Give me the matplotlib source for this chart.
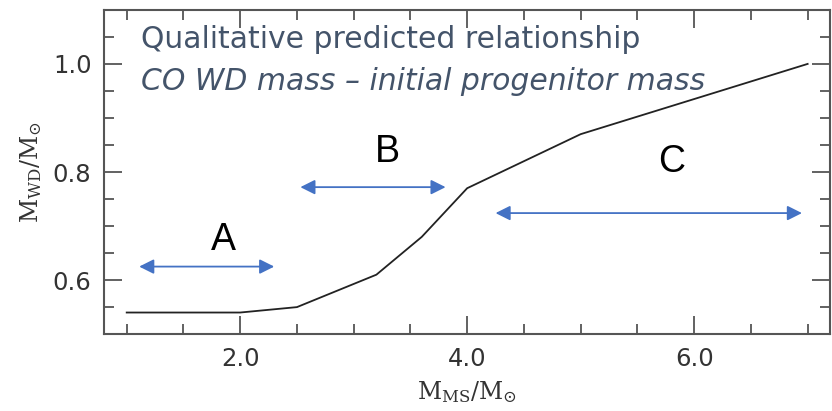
import matplotlib.pyplot as plt

m_ms = [1.0, 2.0, 2.5, 3.2, 3.6, 4.0, 5.0, 7.0]
m_wd = [0.54, 0.54, 0.55, 0.61, 0.68, 0.77, 0.87, 1.0]

# region arrows: (label, x_start, x_end, y_arrow, x_label, y_label)
regions = ['A', 'B', 'C']
arrow_x0 = [1.11, 2.53, 4.25]
arrow_x1 = [2.30, 3.81, 6.95]
arrow_y = [0.625, 0.772, 0.724]
label_x = [1.85, 3.30, 5.80]
label_y = [0.675, 0.837, 0.818]

title_lines = ['Qualitative predicted relationship',
               'CO WD mass \u2013 initial progenitor mass']

plt.rcParams['mathtext.fontset'] = 'dejavuserif'

fig = plt.figure(figsize=(8.32, 4.11), dpi=100)
ax = fig.add_axes([0.125, 0.187, 0.873, 0.789])

ax.plot(m_ms, m_wd, color='#222222', lw=1.3)

for lab, x0, x1, y, lx, ly in zip(regions, arrow_x0, arrow_x1, arrow_y, label_x, label_y):
    ax.annotate('', xy=(x1, y), xytext=(x0, y),
                arrowprops=dict(arrowstyle='<|-|>', color='#4472C4', lw=1.3,
                                mutation_scale=22, shrinkA=0, shrinkB=0))
    ax.text(lx, ly, lab, fontsize=27, ha='center', va='center', color='black',
            family='Liberation Sans')

ax.text(1.13, 1.029, title_lines[0], fontsize=21.5, color='#44546A', va='baseline',
        family='DejaVu Sans')
ax.text(1.13, 0.951, title_lines[1], fontsize=21.5, color='#44546A', va='baseline',
        family='DejaVu Sans', style='italic')

ax.set_xlim(0.8, 7.2)
ax.set_ylim(0.5, 1.1)
ax.set_xticks([2.0, 4.0, 6.0])
ax.set_xticklabels(['2.0', '4.0', '6.0'])
ax.set_xticks([1.0, 1.5, 2.5, 3.0, 3.5, 4.5, 5.0, 5.5, 6.5, 7.0], minor=True)
ax.set_yticks([0.6, 0.8, 1.0])
ax.set_yticklabels(['0.6', '0.8', '1.0'])
ax.set_yticks([0.55, 0.65, 0.7, 0.75, 0.85, 0.9, 0.95, 1.05], minor=True)

ax.tick_params(which='both', direction='in', top=True, right=True,
               color='#555555', width=1.3, labelsize=17.5, labelcolor='#333333')
ax.tick_params(which='major', length=13, pad=9)
ax.tick_params(which='minor', length=7)
for s in ax.spines.values():
    s.set_color('#555555')
    s.set_linewidth(1.5)

ax.set_xlabel(r'$\mathrm{M_{MS}/M_{\odot}}$', fontsize=17, color='#333333', labelpad=6)
ax.set_ylabel(r'$\mathrm{M_{WD}/M_{\odot}}$', fontsize=17, color='#333333', labelpad=6)

fig.savefig('out.png', dpi=100)
